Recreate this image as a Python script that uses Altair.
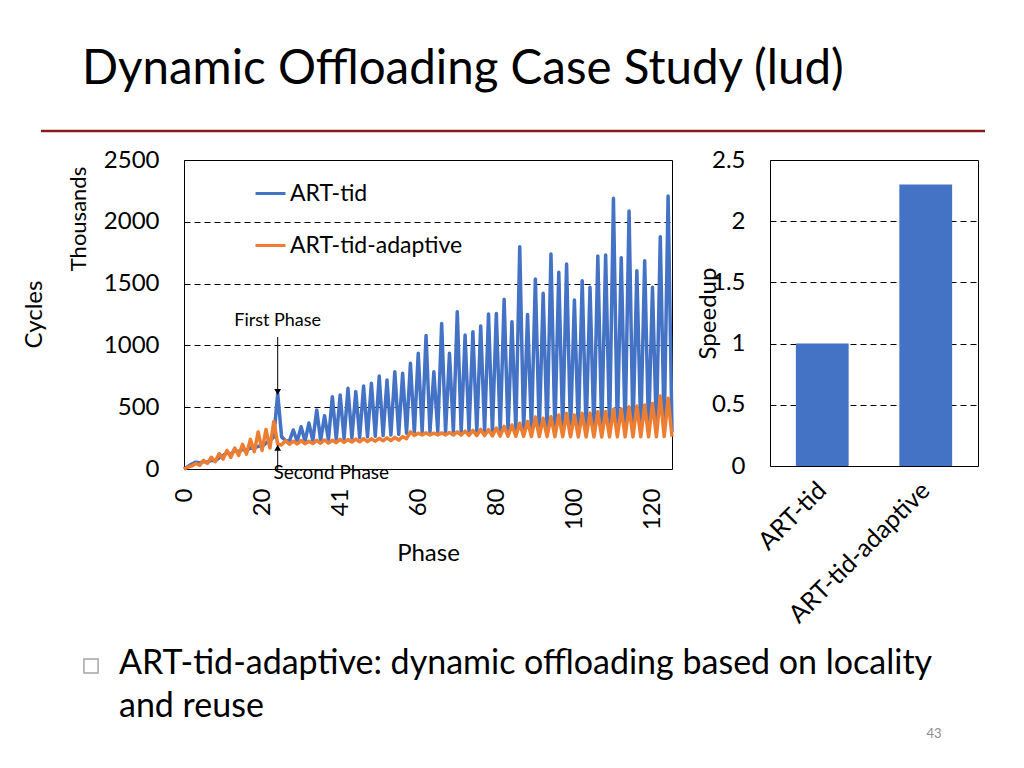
import altair as alt
import pandas as pd

# ---------------- data ----------------
series_names = ["ART-tid", "ART-tid-adaptive"]
series_colors = ["#4472C4", "#ED7D31"]

art_tid = [
    0, 20, 40, 55, 50, 60, 55, 70, 65, 90, 110, 130, 120, 150, 140, 160, 150, 170, 165, 185,
    180, 210, 230, 260, 610, 260, 230, 225, 316, 222, 342, 225, 372, 228, 477, 232, 430, 236, 585, 240,
    599, 245, 653, 250, 626, 255, 671, 260, 693, 265, 752, 270, 720, 275, 787, 280, 774, 290, 855, 295,
    936, 300, 1080, 300, 787, 302, 1178, 300, 936, 305, 1273, 300, 1084, 305, 1111, 300, 1157, 305, 1254, 300,
    1259, 305, 1373, 300, 1192, 305, 1798, 300, 1251, 305, 1537, 300, 1421, 305, 1739, 300, 1591, 305, 1658, 300,
    1367, 305, 1523, 300, 1470, 305, 1723, 300, 1731, 305, 2190, 300, 1710, 305, 2087, 300, 1604, 305, 1685, 300,
    1470, 305, 1879, 300, 2209, 300,
]
art_tid_adaptive = [
    0, 15, 25, 45, 30, 70, 45, 95, 60, 125, 80, 150, 95, 170, 110, 200, 120, 240, 140, 300,
    150, 320, 170, 385, 200, 195, 230, 200, 225, 202, 230, 205, 225, 206, 232, 208, 235, 210, 232, 213,
    240, 215, 238, 218, 242, 220, 245, 222, 244, 225, 248, 228, 252, 230, 256, 234, 262, 245, 300, 272,
    290, 275, 292, 275, 290, 276, 292, 276, 296, 275, 300, 274, 306, 272, 312, 270, 320, 270, 318, 268,
    332, 266, 345, 265, 356, 265, 370, 264, 385, 263, 420, 262, 410, 262, 423, 262, 437, 261, 450, 261,
    437, 260, 450, 260, 452, 260, 464, 260, 466, 260, 483, 260, 485, 260, 504, 260, 510, 260, 518, 260,
    531, 260, 590, 262, 572, 262,
]
phase_tick_values = [0, 20, 40, 60, 80, 100, 120]
phase_tick_labels = ["0", "20", "41", "60", "80", "100", "120"]
cycle_ticks = [0, 500, 1000, 1500, 2000, 2500]

bar_names = ["ART-tid", "ART-tid-adaptive"]
speedups = [1.0, 2.3]
speedup_ticks = [0, 0.5, 1, 1.5, 2, 2.5]

slide_title = "Dynamic Offloading Case Study (lud)"
bullet_text = ["ART-tid-adaptive: dynamic offloading based on locality", "and reuse"]
page_number = "43"
units_label = "Thousands"
first_phase_label = "First Phase"
second_phase_label = "Second Phase"

# annotation anchors (data units)
arrow_phase = 24
first_text_cycles = 1200
first_arrow = (1068, 640)
first_head = 623
second_text_phase = 22.9
second_text_cycles = -32
second_arrow = (-8, 175)
second_head = 172

FONT = "Lato"

# ---------------- tables ----------------
n = len(art_tid)
df = pd.DataFrame({
    "Phase": list(range(n)) * 2,
    "Cycles": art_tid + art_tid_adaptive,
    "Series": [series_names[0]] * n + [series_names[1]] * n,
})

label_expr = "''"
for v, l in reversed(list(zip(phase_tick_values, phase_tick_labels))):
    label_expr = f"datum.value == {v} ? '{l}' : ({label_expr})"

x_enc = alt.X(
    "Phase:Q",
    scale=alt.Scale(domain=[0, n - 1], nice=False, zero=False),
    axis=alt.Axis(
        values=phase_tick_values, labelExpr=label_expr, labelAngle=270, labelAlign="right",
        labelBaseline="middle", labelPadding=19, labelFontSize=24, labelFlush=False,
        labelOverlap=False, grid=False, title="Phase", titleFontSize=24, titleY=84,
        titleBaseline="middle",
    ),
)
y_enc = alt.Y(
    "Cycles:Q",
    scale=alt.Scale(domain=[0, 2500], nice=False),
    axis=alt.Axis(
        values=cycle_ticks, format="d", grid=True, gridDash=[6, 4], gridColor="black", gridWidth=1,
        labelPadding=25, labelFontSize=24, labelFlush=False, title="Cycles", titleFontSize=24,
        titleX=-150, titleY=154, titleAngle=270, titleAlign="center", titleBaseline="middle",
    ),
)

lines = alt.Chart(df).mark_line(strokeWidth=3.5, strokeJoin="round").encode(
    x=x_enc,
    y=y_enc,
    color=alt.Color(
        "Series:N",
        scale=alt.Scale(domain=series_names, range=series_colors),
        legend=alt.Legend(
            orient="none", legendX=70, legendY=17, title=None, symbolType="stroke",
            symbolSize=900, symbolStrokeWidth=3, labelFontSize=23, labelOffset=3,
            rowPadding=23, padding=0, labelColor="black", direction="vertical", labelLimit=0,
        ),
    ),
)

# phase annotations
ann_text = pd.DataFrame({
    "Phase": [arrow_phase, second_text_phase],
    "Cycles": [first_text_cycles, second_text_cycles],
    "label": [first_phase_label, second_phase_label],
})
first_txt = alt.Chart(ann_text.iloc[[0]]).mark_text(fontSize=18, align="center", baseline="middle", color="black").encode(
    x="Phase:Q", y="Cycles:Q", text="label:N")
second_txt = alt.Chart(ann_text.iloc[[1]]).mark_text(fontSize=19, align="left", baseline="middle", color="black").encode(
    x="Phase:Q", y="Cycles:Q", text="label:N")

arrows = pd.DataFrame({
    "Phase": [arrow_phase, arrow_phase],
    "Cycles": [first_arrow[0], second_arrow[0]],
    "Cycles2": [first_arrow[1], second_arrow[1]],
})
arrow_rules = alt.Chart(arrows).mark_rule(color="black", strokeWidth=1).encode(
    x="Phase:Q", y="Cycles:Q", y2="Cycles2:Q")
heads = pd.DataFrame({
    "Phase": [arrow_phase, arrow_phase],
    "Cycles": [first_head, second_head],
    "shape": ["triangle-down", "triangle-up"],
})
arrow_heads = alt.Chart(heads).mark_point(filled=True, color="black", size=45, opacity=1).encode(
    x="Phase:Q", y="Cycles:Q",
    shape=alt.Shape("shape:N", scale=alt.Scale(domain=["triangle-down", "triangle-up"],
                                                range=["triangle-down", "triangle-up"]), legend=None))

# slide decorations (pixel offsets relative to the line plot origin)
one = pd.DataFrame({"k": [0]})
title_mark = alt.Chart(pd.DataFrame({"t": [slide_title]})).mark_text(
    fontSize=47.5, align="left", baseline="alphabetic", color="black").encode(
    text="t:N", x=alt.value(-102), y=alt.value(-76))
red_rule = alt.Chart(one).mark_rule(color="#8B1A1A", strokeWidth=2.5).encode(
    x=alt.value(-143), x2=alt.value(801), y=alt.value(-29))
units_mark = alt.Chart(pd.DataFrame({"t": [units_label]})).mark_text(
    fontSize=22, angle=270, align="center", baseline="middle", color="black").encode(
    text="t:N", x=alt.value(-105), y=alt.value(59))
bullet_box = alt.Chart(one).mark_square(filled=False, color="#7f7f7f", size=200, strokeWidth=1.5).encode(
    x=alt.value(-93), y=alt.value(506))
bullet_mark = alt.Chart(pd.DataFrame({"t": [bullet_text]})).mark_text(
    fontSize=34, align="left", baseline="alphabetic", lineHeight=43, color="black").encode(
    text="t", x=alt.value(-65), y=alt.value(514))
page_mark = alt.Chart(pd.DataFrame({"t": [page_number]})).mark_text(
    fontSize=13, align="center", baseline="alphabetic", color="#8c8c8c").encode(
    text="t:N", x=alt.value(750), y=alt.value(578))

line_chart = alt.layer(
    lines, arrow_rules, arrow_heads, first_txt, second_txt,
    title_mark, red_rule, units_mark, bullet_box, bullet_mark, page_mark,
).properties(width=488, height=309)

# ---------------- bar chart ----------------
bar_df = pd.DataFrame({"Config": bar_names, "Speedup": speedups})
bar_chart = alt.Chart(bar_df).mark_bar(color="#4472C4").encode(
    x=alt.X("Config:N", sort=bar_names,
            scale=alt.Scale(paddingInner=0.49, paddingOuter=0.25),
            axis=alt.Axis(title=None, labelAngle=315, labelAlign="right", labelBaseline="middle",
                          labelPadding=20, labelFontSize=25, labelLimit=0)),
    y=alt.Y("Speedup:Q", scale=alt.Scale(domain=[0, 2.5], nice=False),
            axis=alt.Axis(values=speedup_ticks, labelExpr="'' + datum.value", grid=True,
                          gridDash=[6, 4], gridColor="black", gridWidth=1, labelPadding=25,
                          labelFontSize=24, labelFlush=False, title="Speedup", titleFontSize=24,
                          titleX=-62, titleY=153, titleAngle=270, titleAlign="center",
                          titleBaseline="middle")),
).properties(width=208, height=306)

chart = alt.hconcat(line_chart, bar_chart, spacing=98, bounds="flush").properties(
    padding={"left": 13, "top": 37, "right": 5, "bottom": 5}
).configure(font=FONT).configure_view(
    stroke="black", strokeWidth=1
).configure_axis(
    domain=False, ticks=False, labelColor="black", titleColor="black", titleFontWeight="normal",
    labelFont=FONT, titleFont=FONT,
).configure_legend(labelFont=FONT)

chart.save("out.html", embed_options={"renderer": "svg", "actions": False})
